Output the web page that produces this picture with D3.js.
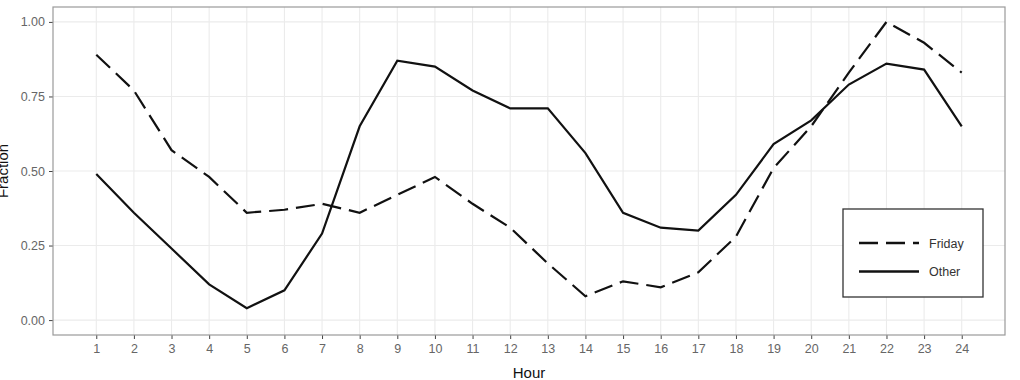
<!DOCTYPE html>
<html>
<head>
<meta charset="utf-8">
<script src="https://cdn.jsdelivr.net/npm/d3@7"></script>
<style>
  body { margin: 0; background: #fff; }
  svg { display: block; font-family: "Liberation Sans", Arial, sans-serif; }
</style>
</head>
<body>
<div id="chart"></div>
<script>
// hours on the x axis
const hours = d3.range(1, 25);
// fraction per hour
const friday = [0.89, 0.77, 0.57, 0.48, 0.36, 0.37, 0.39, 0.36, 0.42, 0.48, 0.39, 0.31,
                0.19, 0.08, 0.13, 0.11, 0.16, 0.28, 0.51, 0.65, 0.83, 1.00, 0.93, 0.83];
const other = [0.49, 0.36, 0.24, 0.12, 0.04, 0.10, 0.29, 0.65, 0.87, 0.85, 0.77, 0.71,
               0.71, 0.56, 0.36, 0.31, 0.30, 0.42, 0.59, 0.67, 0.79, 0.86, 0.84, 0.65];
const seriesNames = ["Friday", "Other"];
const yTicks = [0, 0.25, 0.5, 0.75, 1];

const width = 1020, height = 380;
const panel = { left: 53, right: 1005, top: 7, bottom: 335 };

const svg = d3.select("#chart").append("svg")
  .attr("width", width)
  .attr("height", height);

// ggplot style 5% expansion on both axes
const x = d3.scaleLinear()
  .domain([1 - 23 * 0.05, 24 + 23 * 0.05])
  .range([panel.left, panel.right]);
const y = d3.scaleLinear()
  .domain([-0.05, 1.05])
  .range([panel.bottom, panel.top]);

// grid
const grid = svg.append("g");
grid.selectAll("line.h")
  .data(yTicks)
  .join("line")
  .attr("x1", panel.left).attr("x2", panel.right)
  .attr("y1", d => y(d)).attr("y2", d => y(d))
  .style("stroke", "#ebebeb").style("stroke-width", 1.1);
grid.selectAll("line.v")
  .data(hours)
  .join("line")
  .attr("x1", d => x(d)).attr("x2", d => x(d))
  .attr("y1", panel.top).attr("y2", panel.bottom)
  .style("stroke", "#ebebeb").style("stroke-width", 1.1);

// axes
const xAxis = svg.append("g")
  .attr("transform", `translate(0,${panel.bottom})`)
  .call(d3.axisBottom(x).tickValues(hours).tickSize(4).tickPadding(5));
const yAxis = svg.append("g")
  .attr("transform", `translate(${panel.left},0)`)
  .call(d3.axisLeft(y).tickValues(yTicks).tickFormat(d3.format(".2f")).tickSize(4).tickPadding(4));

[xAxis, yAxis].forEach(a => {
  a.select(".domain").remove();
  a.selectAll(".tick line").style("stroke", "#444").style("stroke-width", 1);
  a.selectAll(".tick text")
    .style("fill", "#666")
    .style("font-size", "12.5px")
    .style("font-family", "Liberation Sans, Arial, sans-serif");
});

// lines
const line = d3.line()
  .x((d, i) => x(hours[i]))
  .y(d => y(d));

const plot = svg.append("g");
plot.append("path")
  .datum(friday)
  .attr("d", line)
  .style("fill", "none")
  .style("stroke", "#111")
  .style("stroke-width", 2.2)
  .style("stroke-dasharray", "19,8");
plot.append("path")
  .datum(other)
  .attr("d", line)
  .style("fill", "none")
  .style("stroke", "#111")
  .style("stroke-width", 2.2);

// panel border
svg.append("rect")
  .attr("x", panel.left).attr("y", panel.top)
  .attr("width", panel.right - panel.left)
  .attr("height", panel.bottom - panel.top)
  .style("fill", "none")
  .style("stroke", "#9a9a9a")
  .style("stroke-width", 1.2);

// axis titles
svg.append("text")
  .attr("x", (panel.left + panel.right) / 2)
  .attr("y", 378)
  .attr("text-anchor", "middle")
  .style("font-size", "15px")
  .style("fill", "#111")
  .text("Hour");
svg.append("text")
  .attr("transform", `translate(8,${(panel.top + panel.bottom) / 2}) rotate(-90)`)
  .attr("text-anchor", "middle")
  .style("font-size", "15px")
  .style("fill", "#111")
  .text("Fraction");

// legend
const legend = svg.append("g").attr("transform", "translate(843,209)");
legend.append("rect")
  .attr("width", 140).attr("height", 88)
  .style("fill", "#fff")
  .style("stroke", "#333")
  .style("stroke-width", 1.3);
const dashes = ["19,8", null];
seriesNames.forEach((name, i) => {
  const ly = 34 + i * 28.5;
  legend.append("line")
    .attr("x1", 16).attr("x2", 76)
    .attr("y1", ly).attr("y2", ly)
    .style("stroke", "#111")
    .style("stroke-width", 2.4)
    .style("stroke-dasharray", dashes[i]);
  legend.append("text")
    .attr("x", 86).attr("y", ly + 4.5)
    .style("font-size", "12.5px")
    .style("fill", "#333")
    .text(name);
});
</script>
</body>
</html>
